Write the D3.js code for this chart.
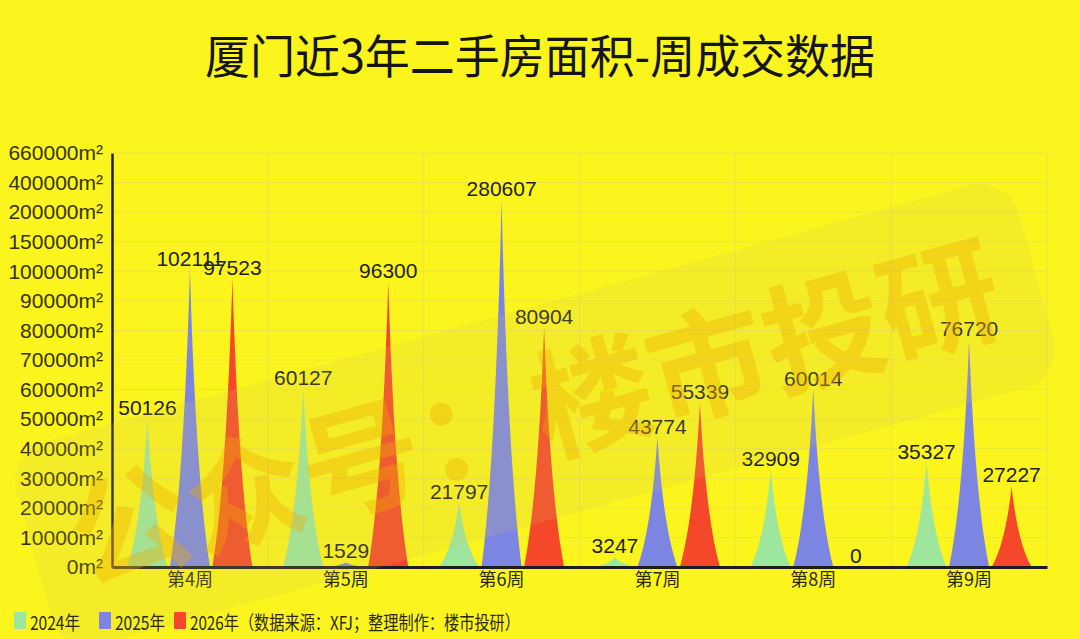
<!DOCTYPE html>
<html>
<head>
<meta charset="utf-8">
<script src="https://cdn.jsdelivr.net/npm/d3@7"></script>
<style>
  html, body { margin: 0; padding: 0; background: #fbf41d; }
  svg { display: block; }
  text { font-family: "Liberation Sans", Arial, "Noto Sans CJK SC", sans-serif; }
  .cjk { font-family: "Noto Sans CJK SC", sans-serif; }
</style>
</head>
<body>
<div id="chart"></div>
<script>
(function () {
  "use strict";

  // data
  const weeks = ["第4周", "第5周", "第6周", "第7周", "第8周", "第9周"];
  const seriesNames = ["2024年", "2025年", "2026年"];
  const values2024 = [50126, 60127, 21797, 3247, 32909, 35327];
  const values2025 = [102111, 1529, 280607, 43774, 60014, 76720];
  const values2026 = [97523, 96300, 80904, 55339, 0, 27227];
  const yTicks = [0, 10000, 20000, 30000, 40000, 50000, 60000, 70000, 80000,
    90000, 100000, 150000, 200000, 400000, 660000];
  const colors = ["#9ee59d", "#7c86e2", "#f5482a"];
  const title = "厦门近3年二手房面积-周成交数据";
  const note = "（数据来源：XFJ；整理制作：楼市投研）";
  const watermark = "公众号：楼市投研";

  const series = [values2024, values2025, values2026];

  const width = 1080;
  const height = 639;
  const left = 112, right = 1047, top = 153, bottom = 567;

  const svg = d3.select("#chart")
    .append("svg")
    .attr("width", width)
    .attr("height", height);

  svg.append("rect")
    .attr("width", width)
    .attr("height", height)
    .attr("fill", "#fbf41d");

  // title
  svg.append("text")
    .attr("class", "cjk")
    .attr("x", 540)
    .attr("y", 53)
    .attr("text-anchor", "middle")
    .attr("dominant-baseline", "central")
    .attr("textLength", 670)
    .attr("lengthAdjust", "spacingAndGlyphs")
    .style("font-size", "46px")
    .style("fill", "#151515")
    .text(title);

  // piecewise y scale: every tick gets the same spacing
  const y = d3.scaleLinear()
    .domain(yTicks)
    .range(yTicks.map((d, i) => bottom - (i * (bottom - top)) / (yTicks.length - 1)));

  const x = d3.scaleBand().domain(weeks).range([left, right]).padding(0);
  const bw = x.bandwidth();
  const xSub = d3.scaleBand()
    .domain(seriesNames)
    .range([bw / 2 - 63.75, bw / 2 + 63.75]);
  const spikeW = 40;

  // grid
  const grid = svg.append("g").attr("stroke", "#d9d27a").attr("stroke-opacity", 0.45);
  grid.selectAll("line.h")
    .data(yTicks)
    .join("line")
    .attr("class", "h")
    .attr("x1", left)
    .attr("x2", right)
    .attr("y1", (d) => y(d))
    .attr("y2", (d) => y(d));
  grid.selectAll("line.v")
    .data(weeks)
    .join("line")
    .attr("class", "v")
    .attr("x1", (d) => x(d) + bw)
    .attr("x2", (d) => x(d) + bw)
    .attr("y1", top)
    .attr("y2", bottom);

  // spikes with concave sides
  function spike(cx, w, y0, yt) {
    const h = y0 - yt;
    return `M${cx - w / 2},${y0} Q${cx - w * 0.15},${y0 - h * 0.3} ${cx},${yt}` +
      ` Q${cx + w * 0.15},${y0 - h * 0.3} ${cx + w / 2},${y0} Z`;
  }

  const groups = svg.append("g")
    .selectAll("g")
    .data(series)
    .join("g")
    .attr("fill", (d, i) => colors[i]);

  groups.selectAll("path")
    .data((vals, si) => vals.map((v, wi) => ({ v: v, week: weeks[wi], s: seriesNames[si] })))
    .join("path")
    .attr("d", (d) => spike(x(d.week) + xSub(d.s) + xSub.bandwidth() / 2, spikeW, y(0), y(d.v)));

  // value labels
  groups.selectAll("text")
    .data((vals, si) => vals.map((v, wi) => ({ v: v, week: weeks[wi], s: seriesNames[si] })))
    .join("text")
    .attr("x", (d) => x(d.week) + xSub(d.s) + xSub.bandwidth() / 2)
    .attr("y", (d) => y(d.v) - 4)
    .attr("text-anchor", "middle")
    .style("font-size", "21px")
    .style("fill", "#1e1e1e")
    .text((d) => d.v);

  // y axis
  const yAxis = svg.append("g")
    .attr("transform", `translate(${left},0)`)
    .call(d3.axisLeft(y).tickValues(yTicks).tickSize(0).tickPadding(9)
      .tickFormat((d) => d + "m²"));
  yAxis.select(".domain").attr("stroke", "#222").attr("stroke-width", 2.5);
  yAxis.selectAll("text")
    .style("font-size", "21px")
    .style("font-family", "'Liberation Sans', Arial, sans-serif")
    .style("fill", "#35320a");

  // x axis
  const xAxis = svg.append("g")
    .attr("transform", `translate(0,${bottom})`)
    .call(d3.axisBottom(x).tickSize(0).tickPadding(6));
  xAxis.select(".domain").attr("stroke", "#1c1c1c").attr("stroke-width", 3);
  xAxis.selectAll("text")
    .attr("class", "cjk")
    .style("font-size", "18px")
    .style("fill", "#2a2a10");

  // watermark on top
  const wm = svg.append("g")
    .attr("transform", "translate(535,415) rotate(-15.5)")
    .style("pointer-events", "none");
  wm.append("rect")
    .attr("x", -520)
    .attr("y", -105)
    .attr("width", 1040)
    .attr("height", 210)
    .attr("rx", 40)
    .attr("fill", "#d6c45a")
    .attr("fill-opacity", 0.16);
  wm.append("text")
    .attr("class", "cjk")
    .attr("x", 0)
    .attr("y", -10)
    .attr("text-anchor", "middle")
    .attr("dominant-baseline", "central")
    .style("font-size", "120px")
    .style("font-weight", 700)
    .style("fill", "#eea800")
    .style("fill-opacity", 0.36)
    .text(watermark);

  // legend
  const legendX = [14, 99, 174];
  const legendTextLen = [50, 50, 330];
  const legend = svg.append("g")
    .selectAll("g")
    .data(seriesNames)
    .join("g")
    .attr("transform", (d, i) => `translate(${legendX[i]},612)`);
  legend.append("rect")
    .attr("width", 12)
    .attr("height", 17)
    .attr("rx", 1)
    .attr("fill", (d, i) => colors[i]);
  legend.append("text")
    .attr("class", "cjk")
    .attr("x", 16)
    .attr("y", 9)
    .attr("dominant-baseline", "central")
    .attr("textLength", (d, i) => legendTextLen[i])
    .attr("lengthAdjust", "spacingAndGlyphs")
    .style("font-size", "19px")
    .style("fill", "#2b2a10")
    .text((d, i) => (i === seriesNames.length - 1 ? d + note : d));
})();
</script>
</body>
</html>
